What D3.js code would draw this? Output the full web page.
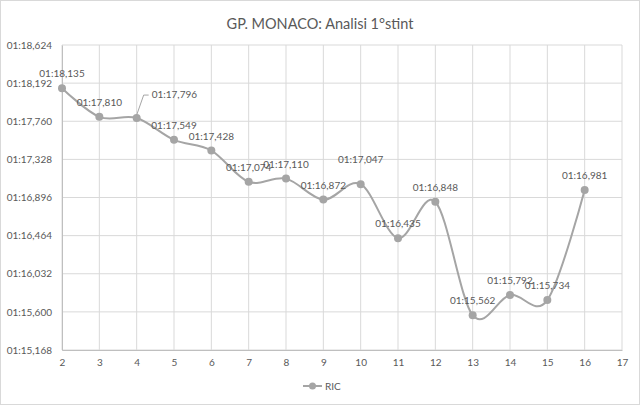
<!DOCTYPE html>
<html><head><meta charset="utf-8">
<script src="https://cdn.jsdelivr.net/npm/d3@7"></script>
<style>body{margin:0;background:#fff}text{font-family:Lato,"Open Sans",sans-serif}</style>
</head><body><svg id="c" width="640" height="405"></svg>
<script>
const laps = [2,3,4,5,6,7,8,9,10,11,12,13,14,15,16];
const ricTimes = [78.135,77.810,77.796,77.549,77.428,77.074,77.110,76.872,77.047,76.435,76.848,75.562,75.792,75.734,76.981];
const yTicks = [75.168,75.600,76.032,76.464,76.896,77.328,77.760,78.192,78.624];
const xTicks = [2,3,4,5,6,7,8,9,10,11,12,13,14,15,16,17];
const seriesName = "RIC";
const title = "GP. MONACO: Analisi 1°stint";

const svg = d3.select("#c");
const W=640,H=405, L=62, R=622, T=45, B=350;
const x = d3.scaleLinear().domain([2,17]).range([L,R]);
const y = d3.scaleLinear().domain([75.168,78.624]).range([B,T]);
const fmt = v => { const m=Math.floor(v/60); const s=v-m*60; const si=Math.floor(s+1e-9); const ms=Math.round((s-si)*1000);
  return String(m).padStart(2,"0")+":"+String(si).padStart(2,"0")+","+String(ms).padStart(3,"0"); };

svg.append("rect").attr("x",0.5).attr("y",0.5).attr("width",W-1).attr("height",H-1).attr("fill","#fff").attr("stroke","#d9d9d9");
svg.append("text").attr("x",320).attr("y",29).attr("text-anchor","middle").attr("font-size",14.5).attr("fill","#595959").text(title);

const grid = svg.append("g");
grid.selectAll("line.h").data(yTicks).join("line").attr("x1",L).attr("x2",R).attr("y1",d=>y(d)).attr("y2",d=>y(d)).attr("stroke","#d9d9d9");
grid.selectAll("line.v").data(xTicks).join("line").attr("y1",T).attr("y2",B).attr("x1",d=>x(d)).attr("x2",d=>x(d)).attr("stroke","#d9d9d9");

const yAxis = svg.append("g").attr("transform",`translate(${L},0)`).call(d3.axisLeft(y).tickValues(yTicks).tickFormat(fmt).tickSize(0).tickPadding(10));
yAxis.select(".domain").attr("stroke","#bfbfbf");
yAxis.selectAll("text").attr("font-size",10).attr("fill","#595959").style("font-family","Lato,sans-serif");
const xAxis = svg.append("g").attr("transform",`translate(0,${B})`).call(d3.axisBottom(x).tickValues(xTicks).tickFormat(d3.format("d")).tickSize(0).tickPadding(9));
xAxis.select(".domain").attr("stroke","#bfbfbf");
xAxis.selectAll("text").attr("font-size",10).attr("fill","#595959").style("font-family","Lato,sans-serif");

const pts = laps.map((l,i)=>[l,ricTimes[i]]);
const line = d3.line().x(d=>x(d[0])).y(d=>y(d[1])).curve(d3.curveCatmullRom.alpha(0));
svg.append("path").attr("d",line(pts)).attr("fill","none").attr("stroke","#a5a5a5").attr("stroke-width",2);
svg.selectAll("circle.p").data(pts).join("circle").attr("cx",d=>x(d[0])).attr("cy",d=>y(d[1])).attr("r",4).attr("fill","#a5a5a5");

// data labels: above the point, with a few nudged (as in the reference)
const nudge = {4:[0,-6], 10:[0,-10]};
svg.selectAll("text.lbl").data(pts).join("text")
  .attr("x",d=>x(d[0])+((nudge[d[0]]||[0,0])[0]))
  .attr("y",d=>y(d[1])-11+((nudge[d[0]]||[0,0])[1]))
  .attr("text-anchor","middle").attr("font-size",10).attr("fill","#595959")
  .text(d=>fmt(d[1]))
  .each(function(d){ if(d[0]===4){ d3.select(this).attr("text-anchor","start").attr("x",x(d[0])+15).attr("y",y(d[1])-20);} });
// leader line for lap 4
const p4 = pts[laps.indexOf(4)];
svg.append("path").attr("d",`M${x(p4[0])},${y(p4[1])-3} L${x(p4[0])+7},${y(p4[1])-23} L${x(p4[0])+12},${y(p4[1])-23}`).attr("fill","none").attr("stroke","#a5a5a5").attr("stroke-width",1);

// legend
const lg = svg.append("g").attr("transform","translate(303,386)");
lg.append("line").attr("x1",0).attr("x2",19).attr("stroke","#a5a5a5").attr("stroke-width",2);
lg.append("circle").attr("cx",9.5).attr("r",3.5).attr("fill","#a5a5a5");
lg.append("text").attr("x",22).attr("y",3.5).attr("font-size",10).attr("fill","#595959").text(seriesName);
</script></body></html>
